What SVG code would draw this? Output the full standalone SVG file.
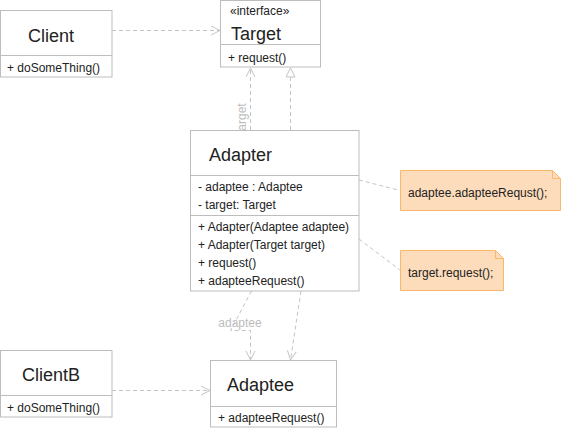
<svg xmlns="http://www.w3.org/2000/svg" width="561" height="428" viewBox="0 0 561 428">
<style>
.box{fill:#fff;stroke:#bdbdbd;stroke-width:1}
.t{font-family:"Liberation Sans",Arial,sans-serif;fill:#222}
.title{font-size:18px}
.mem{font-size:12px}
.con{fill:none;stroke:#c4c4c4;stroke-width:1;stroke-dasharray:4,3}
.lbl{font-family:"Liberation Sans",Arial,sans-serif;font-size:12px;fill:#bcbcbc}
.note{fill:#fddcbb;stroke:#f9b86c;stroke-width:1}
</style>
<defs>
<marker id="open" markerWidth="12" markerHeight="12" refX="10" refY="5" orient="auto" markerUnits="userSpaceOnUse">
<path d="M1,0.5 L10,5 L1,9.5" fill="none" stroke="#c4c4c4" stroke-width="1"/>
</marker>
<marker id="tri" markerWidth="12" markerHeight="12" refX="10" refY="5" orient="auto" markerUnits="userSpaceOnUse">
<path d="M1,0.5 L10,5 L1,9.5 Z" fill="#fff" stroke="#c4c4c4" stroke-width="1"/>
</marker>
</defs>
<g id="connectors">
<line class="con" x1="112" y1="30.5" x2="220" y2="30.5" marker-end="url(#open)"/>
<line class="con" x1="250.5" y1="130" x2="250.5" y2="68" marker-end="url(#open)"/>
<text class="lbl" transform="translate(246,134) rotate(-90)">target</text>
<line class="con" x1="290.5" y1="130" x2="290.5" y2="68" marker-end="url(#tri)"/>
<line class="con" x1="359" y1="180" x2="400" y2="190.5"/>
<line class="con" x1="359" y1="239" x2="400" y2="270"/>
<polyline class="con" points="251.5,291 230.5,330.5 250.5,330.5 250.5,360" marker-end="url(#open)"/>
<text class="lbl" x="240" y="327" text-anchor="middle">adaptee</text>
<line class="con" x1="301" y1="291" x2="290.5" y2="360" marker-end="url(#open)"/>
<line class="con" x1="112" y1="390.5" x2="210" y2="390.5" marker-end="url(#open)"/>
</g>
<g id="client">
<rect class="box" x="0.5" y="10.5" width="111.5" height="66.5"/>
<line class="box" x1="0.5" y1="55.5" x2="112" y2="55.5"/>
<text class="t title" x="28" y="42">Client</text>
<text class="t mem" x="7" y="72">+ doSomeThing()</text>
</g>
<g id="target">
<rect class="box" x="220.5" y="0.5" width="100" height="66.5"/>
<line class="box" x1="220.5" y1="44.5" x2="320.5" y2="44.5"/>
<text class="t mem" x="230" y="15">«interface»</text>
<text class="t title" x="231" y="40">Target</text>
<text class="t mem" x="228" y="62">+ request()</text>
</g>
<g id="adapter">
<rect class="box" x="190.5" y="130.5" width="168.5" height="160.5"/>
<line class="box" x1="190.5" y1="175.5" x2="359" y2="175.5"/>
<line class="box" x1="190.5" y1="215.5" x2="359" y2="215.5"/>
<text class="t title" x="209" y="161">Adapter</text>
<text class="t mem" x="198" y="191">- adaptee : Adaptee</text>
<text class="t mem" x="198" y="209">- target: Target</text>
<text class="t mem" x="198" y="231">+ Adapter(Adaptee adaptee)</text>
<text class="t mem" x="198" y="249">+ Adapter(Target target)</text>
<text class="t mem" x="198" y="267">+ request()</text>
<text class="t mem" x="198" y="285">+ adapteeRequest()</text>
</g>
<g id="note1">
<path class="note" d="M400.5,170.5 H552.5 L560.5,178.5 V210.5 H400.5 Z"/>
<path d="M552.5,170.5 V178.5 H560.5" fill="none" stroke="#f9b86c"/>
<text class="t mem" x="408" y="197">adaptee.adapteeRequst();</text>
</g>
<g id="note2">
<path class="note" d="M400.5,250.5 H495.5 L503.5,258.5 V290.5 H400.5 Z"/>
<path d="M495.5,250.5 V258.5 H503.5" fill="none" stroke="#f9b86c"/>
<text class="t mem" x="408" y="277">target.request();</text>
</g>
<g id="clientb">
<rect class="box" x="0.5" y="350.5" width="111.5" height="66.5"/>
<line class="box" x1="0.5" y1="395.5" x2="112" y2="395.5"/>
<text class="t title" x="22" y="381">ClientB</text>
<text class="t mem" x="7" y="412">+ doSomeThing()</text>
</g>
<g id="adaptee">
<rect class="box" x="210.5" y="360.5" width="126" height="66.5"/>
<line class="box" x1="210.5" y1="406.5" x2="336.5" y2="406.5"/>
<text class="t title" x="227" y="391">Adaptee</text>
<text class="t mem" x="218" y="422">+ adapteeRequest()</text>
</g>
</svg>
